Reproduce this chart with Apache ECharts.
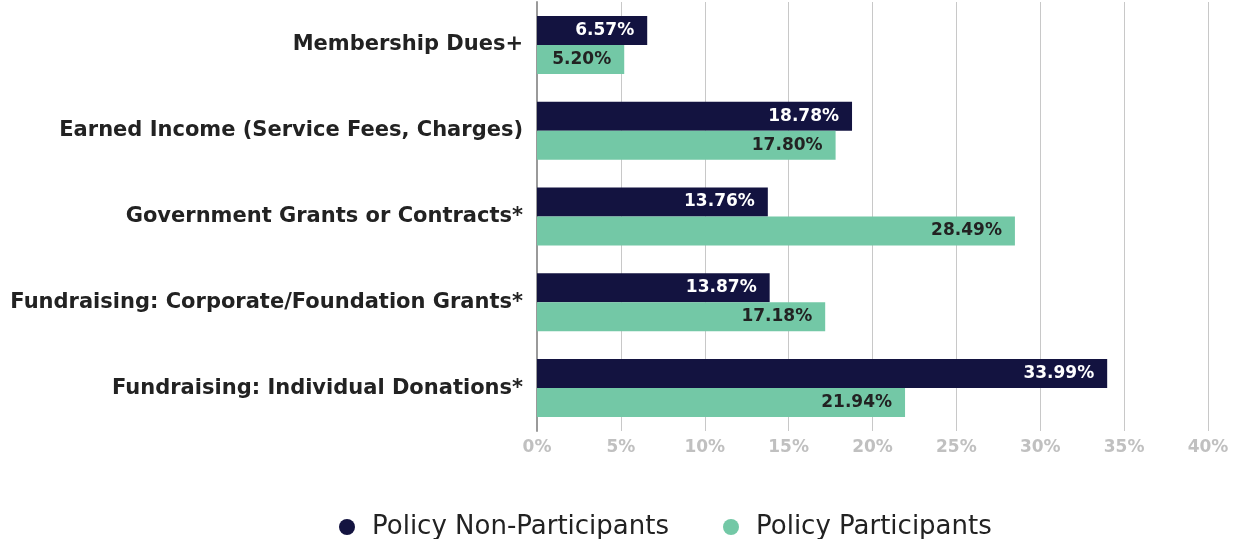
<!DOCTYPE html>
<html>
<head>
<meta charset="utf-8">
<script src="https://cdn.jsdelivr.net/npm/echarts@6/dist/echarts.min.js"></script>
<style>
html,body{margin:0;padding:0;background:#fff;}
#chart{width:1240px;height:539px;}
</style>
</head>
<body>
<div id="chart"></div>
<script>
const categories = [
  "Membership Dues+",
  "Earned Income (Service Fees, Charges)",
  "Government Grants or Contracts*",
  "Fundraising: Corporate/Foundation Grants*",
  "Fundraising: Individual Donations*"
];
const nonParticipants = [6.57, 18.78, 13.76, 13.87, 33.99];
const participants = [5.20, 17.80, 28.49, 17.18, 21.94];
const xTicks = [0, 5, 10, 15, 20, 25, 30, 35, 40];

const FONT = "'DejaVu Sans', 'Noto Sans', sans-serif";
const chart = echarts.init(document.getElementById('chart'));
chart.setOption({
  animation: false,
  textStyle: {fontFamily: FONT},
  grid: {left: 537, right: 32, top: 2, bottom: 108, containLabel: false},
  legend: {
    top: 509,
    left: 334,
    icon: 'circle',
    itemWidth: 16,
    itemHeight: 16,
    itemGap: 54,
    textStyle: {fontSize: 26, color: '#222', fontFamily: FONT, padding: [0, 0, 0, 12]},
    data: ['Policy Non-Participants', 'Policy Participants']
  },
  xAxis: {
    type: 'value',
    min: xTicks[0],
    max: xTicks[xTicks.length - 1],
    interval: 5,
    axisLine: {show: false},
    axisTick: {show: false},
    splitLine: {show: true, lineStyle: {color: '#c8c8c8', width: 1}},
    axisLabel: {
      formatter: v => v + '%',
      color: '#c0c0c0',
      fontSize: 17,
      fontWeight: 'bold',
      margin: 8
    }
  },
  yAxis: {
    type: 'category',
    inverse: true,
    data: categories,
    axisLine: {show: true, lineStyle: {color: '#9a9a9a', width: 2}},
    axisTick: {show: false},
    axisLabel: {
      color: '#222',
      fontSize: 21,
      fontWeight: 'bold',
      margin: 14
    }
  },
  series: [
    {
      name: 'Policy Non-Participants',
      type: 'bar',
      data: nonParticipants,
      barWidth: 29,
      barGap: '0%',
      itemStyle: {color: '#131340'},
      label: {
        show: true,
        position: 'insideRight',
        formatter: p => p.value.toFixed(2) + '%',
        color: '#ffffff',
        fontSize: 17,
        fontWeight: 'bold',
        distance: 13
      }
    },
    {
      name: 'Policy Participants',
      type: 'bar',
      data: participants,
      barWidth: 29,
      barGap: '0%',
      itemStyle: {color: '#73c8a6'},
      label: {
        show: true,
        position: 'insideRight',
        formatter: p => p.value.toFixed(2) + '%',
        color: '#222222',
        fontSize: 17,
        fontWeight: 'bold',
        distance: 13
      }
    }
  ]
});
</script>
</body>
</html>
